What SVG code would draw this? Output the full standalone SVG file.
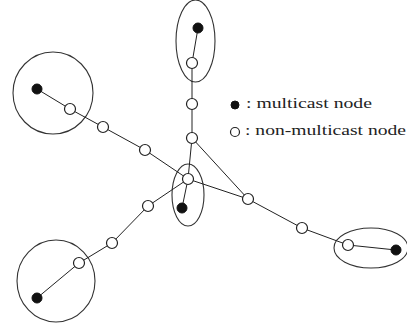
<svg xmlns="http://www.w3.org/2000/svg" width="407" height="326" viewBox="0 0 407 326">
<style>
.edge{stroke:#222;stroke-width:1;fill:none}
.zone{stroke:#333;stroke-width:1.1;fill:none}
.m{fill:#111;stroke:#111;stroke-width:1}
.n{fill:#fff;stroke:#222;stroke-width:1.2}
.lbl{font-size:15px;fill:#222}
</style>
<rect width="407" height="326" fill="#fff"/>
<g id="zones">
<ellipse class="zone" cx="195.5" cy="41" rx="19.5" ry="41"/>
<ellipse class="zone" cx="53" cy="93" rx="40" ry="41"/>
<ellipse class="zone" cx="56" cy="281" rx="39" ry="41"/>
<ellipse class="zone" cx="188" cy="195" rx="16" ry="31"/>
<ellipse class="zone" cx="371" cy="248" rx="37" ry="20"/>
</g>
<g id="connectors">
<line class="edge" x1="198" y1="28" x2="192" y2="63"/>
<line class="edge" x1="192" y1="63" x2="192" y2="104"/>
<line class="edge" x1="192" y1="104" x2="192" y2="138"/>
<line class="edge" x1="192" y1="138" x2="188" y2="179"/>
<line class="edge" x1="192" y1="138" x2="248" y2="199"/>
<line class="edge" x1="37" y1="89" x2="70" y2="109"/>
<line class="edge" x1="70" y1="109" x2="103" y2="127"/>
<line class="edge" x1="103" y1="127" x2="145" y2="150"/>
<line class="edge" x1="145" y1="150" x2="188" y2="179"/>
<line class="edge" x1="37" y1="298" x2="79" y2="263"/>
<line class="edge" x1="79" y1="263" x2="112" y2="243"/>
<line class="edge" x1="112" y1="243" x2="148" y2="206"/>
<line class="edge" x1="148" y1="206" x2="188" y2="179"/>
<line class="edge" x1="188" y1="179" x2="182" y2="208"/>
<line class="edge" x1="188" y1="179" x2="248" y2="199"/>
<line class="edge" x1="248" y1="199" x2="302" y2="228"/>
<line class="edge" x1="302" y1="228" x2="348" y2="245"/>
<line class="edge" x1="348" y1="245" x2="396" y2="250"/>
</g>
<g id="node-top-m"><circle class="m" cx="198" cy="28" r="5"/></g>
<g id="node-top-1"><circle class="n" cx="192" cy="63" r="5.5"/></g>
<g id="node-top-2"><circle class="n" cx="192" cy="104" r="5.5"/></g>
<g id="node-top-3"><circle class="n" cx="192" cy="138" r="5.5"/></g>
<g id="node-center"><circle class="n" cx="188" cy="179" r="5.5"/></g>
<g id="node-center-m"><circle class="m" cx="182" cy="208" r="5"/></g>
<g id="node-lt-m"><circle class="m" cx="37" cy="89" r="5"/></g>
<g id="node-lt-1"><circle class="n" cx="70" cy="109" r="5.5"/></g>
<g id="node-lt-2"><circle class="n" cx="103" cy="127" r="5.5"/></g>
<g id="node-lt-3"><circle class="n" cx="145" cy="150" r="5.5"/></g>
<g id="node-lb-m"><circle class="m" cx="37" cy="298" r="5"/></g>
<g id="node-lb-1"><circle class="n" cx="79" cy="263" r="5.5"/></g>
<g id="node-lb-2"><circle class="n" cx="112" cy="243" r="5.5"/></g>
<g id="node-lb-3"><circle class="n" cx="148" cy="206" r="5.5"/></g>
<g id="node-r-1"><circle class="n" cx="248" cy="199" r="5.5"/></g>
<g id="node-r-2"><circle class="n" cx="302" cy="228" r="5.5"/></g>
<g id="node-r-3"><circle class="n" cx="348" cy="245" r="5.5"/></g>
<g id="node-r-m"><circle class="m" cx="396" cy="250" r="5"/></g>
<g id="legend" font-family="'Liberation Serif', 'Times New Roman', serif">
<circle class="m" cx="235" cy="105" r="4"/>
<text class="lbl" x="246" y="108" textLength="126" lengthAdjust="spacingAndGlyphs">: multicast node</text>
<circle class="n" cx="235" cy="132" r="4.5"/>
<text class="lbl" x="245" y="135" textLength="161" lengthAdjust="spacingAndGlyphs">: non-multicast node</text>
</g>
</svg>
